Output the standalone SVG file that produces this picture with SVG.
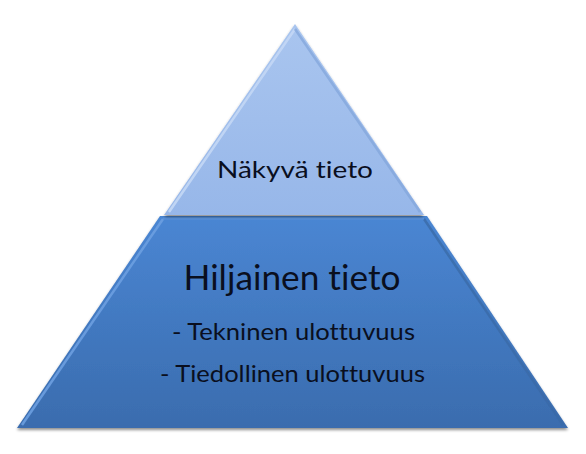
<svg xmlns="http://www.w3.org/2000/svg" width="586" height="454" viewBox="0 0 586 454">
  <defs>
    <linearGradient id="gTop" x1="0" y1="0" x2="0" y2="1">
      <stop offset="0" stop-color="#a9c5ef"/>
      <stop offset="1" stop-color="#97b7e9"/>
    </linearGradient>
    <linearGradient id="gBot" x1="0" y1="0" x2="0" y2="1">
      <stop offset="0" stop-color="#4a86d3"/>
      <stop offset="1" stop-color="#3a6cae"/>
    </linearGradient>
    <filter id="shadow" x="-10%" y="-10%" width="120%" height="130%">
      <feGaussianBlur in="SourceAlpha" stdDeviation="1.6"/>
      <feOffset dx="0" dy="2" result="b"/>
      <feComponentTransfer><feFuncA type="linear" slope="0.45"/></feComponentTransfer>
      <feMerge><feMergeNode/><feMergeNode in="SourceGraphic"/></feMerge>
    </filter>
  </defs>
  <style>
    .lbl { font-family: Lato, "Open Sans", "Liberation Sans", sans-serif; fill: #0a0f1e; text-anchor: middle; font-variant-ligatures: none; font-feature-settings: "liga" 0, "clig" 0; }
    .hiL { fill: none; stroke-width: 2.5; stroke-linejoin: round; }
  </style>
  <rect width="586" height="454" fill="#ffffff"/>

  <g id="node-bottom" filter="url(#shadow)">
    <polygon points="160,216 427,216 568,428 17,428" fill="url(#gBot)"/>
    <polyline class="hiL" points="22,425 163,219" stroke="#6c9ee0" opacity="0.9"/>
    <polyline class="hiL" points="424,219 563,425" stroke="#3a6aa8" opacity="0.8"/>
    <line x1="163" y1="218.5" x2="424" y2="218.5" stroke="#5a93db" stroke-width="2"/>
  </g>

  <g id="node-top" filter="url(#shadow)">
    <polygon points="295,24 424,215 164,215" fill="url(#gTop)"/>
    <polyline class="hiL" points="169,212 295,29" stroke="#c2d6f4" opacity="0.95"/>
    <polyline class="hiL" points="295,29 420,212" stroke="#84a7dc" opacity="0.8"/>
  </g>

  <g id="connectors"></g>

  <g id="labels">
    <text class="lbl" x="295" y="178" font-size="24" textLength="156" lengthAdjust="spacingAndGlyphs">Näkyvä tieto</text>
    <text class="lbl" x="292" y="290" font-size="34" textLength="217" lengthAdjust="spacingAndGlyphs">Hiljainen tieto</text>
    <text class="lbl" x="293.5" y="340" font-size="23" textLength="243" lengthAdjust="spacingAndGlyphs">- Tekninen ulottuvuus</text>
    <text class="lbl" x="292.5" y="382" font-size="23" textLength="265" lengthAdjust="spacingAndGlyphs">- Tiedollinen ulottuvuus</text>
  </g>
</svg>
